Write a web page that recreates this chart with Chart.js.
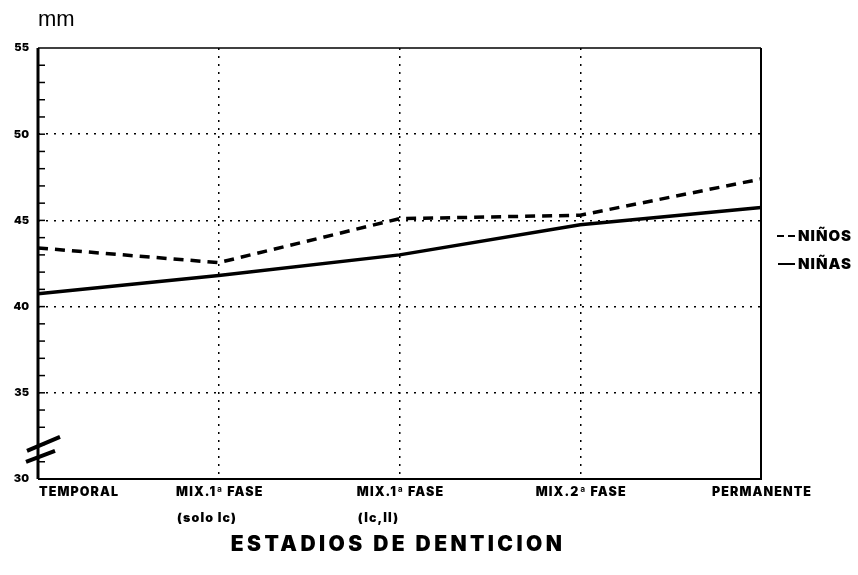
<!DOCTYPE html>
<html>
<head>
<meta charset="utf-8">
<script src="https://cdn.jsdelivr.net/npm/chart.js@4"></script>
<style>
  html, body { margin: 0; padding: 0; background: #fff; }
  #wrap { width: 858px; height: 575px; position: relative; }
</style>
</head>
<body>
<div id="wrap"><canvas id="chart"></canvas></div>
<script>
// =========================
// DATA
// =========================

const categories = [
    ['TEMPORAL'],
    ['MIX.1ª FASE', '(solo Ic)'],
    ['MIX.1ª FASE', '(Ic,II)'],
    ['MIX.2ª FASE'],
    ['PERMANENTE']
];

const ninos = [43.4, 42.55, 45.1, 45.3, 47.4];
const ninas = [40.75, 41.8, 43.0, 44.75, 45.75];

const yMin = 30;
const yMax = 55;
const yMajor = 5;

const seriesNames = ['NIÑOS', 'NIÑAS'];

const heavyFont = 'Inter, "DejaVu Sans", sans-serif';

// =========================
// DECORATION PLUGIN
// =========================

const decorations = {
    id: 'decorations',

    afterDatasetsDraw(chart) {
        const ctx = chart.ctx;
        const area = chart.chartArea;
        const xs = chart.scales.x;
        const ys = chart.scales.y;

        ctx.save();
        ctx.strokeStyle = '#000';
        ctx.lineCap = 'butt';

        // frame
        ctx.lineWidth = 1.5;
        ctx.beginPath();
        ctx.moveTo(area.left, area.top);
        ctx.lineTo(area.right, area.top);
        ctx.stroke();

        ctx.lineWidth = 2;
        ctx.beginPath();
        ctx.moveTo(area.right, area.top);
        ctx.lineTo(area.right, area.bottom);
        ctx.lineTo(area.left, area.bottom);
        ctx.stroke();

        ctx.lineWidth = 3;
        ctx.beginPath();
        ctx.moveTo(area.left, area.top);
        ctx.lineTo(area.left, area.bottom);
        ctx.stroke();

        // minor ticks pointing inside
        ctx.lineWidth = 1.5;
        for (let v = yMin + 1; v < yMax; v++) {
            const y = ys.getPixelForValue(v);
            ctx.beginPath();
            ctx.moveTo(area.left, y);
            ctx.lineTo(area.left + 7, y);
            ctx.stroke();
        }

        // axis break
        ctx.lineWidth = 4;
        ctx.beginPath();
        ctx.moveTo(area.left - 11, ys.getPixelForValue(31.63));
        ctx.lineTo(area.left + 22, ys.getPixelForValue(32.44));
        ctx.moveTo(area.left - 12, ys.getPixelForValue(30.99));
        ctx.lineTo(area.left + 17, ys.getPixelForValue(31.63));
        ctx.stroke();

        // category labels
        ctx.fillStyle = '#000';
        ctx.textBaseline = 'middle';
        ctx.font = '900 12.5px ' + heavyFont;
        ctx.letterSpacing = '1.1px';
        categories.forEach((lines, i) => {
            const x = xs.getPixelForValue(i);
            const w = ctx.measureText(lines[0]).width;
            let left = x - w / 2 + 1;
            if (i === 0) left = x + 1;
            ctx.textAlign = 'left';
            ctx.fillText(lines[0], left, area.bottom + 13);
            if (lines[1]) {
                ctx.fillText(lines[1], left + 1, area.bottom + 39);
            }
        });

        // axis titles
        ctx.letterSpacing = '0px';
        ctx.font = '22px "Liberation Sans", Arial, sans-serif';
        ctx.textAlign = 'left';
        ctx.fillText('mm', area.left, 20);

        ctx.font = '900 21px ' + heavyFont;
        ctx.letterSpacing = '3.4px';
        ctx.textAlign = 'center';
        ctx.fillText('ESTADIOS DE DENTICION', 398, area.bottom + 66);

        // legend
        ctx.font = '900 15px ' + heavyFont;
        ctx.letterSpacing = '1px';
        ctx.textAlign = 'left';
        const lx = area.right + 16;
        const ly = [236, 264];

        ctx.lineWidth = 2;
        ctx.setLineDash([7, 4]);
        ctx.beginPath();
        ctx.moveTo(lx, ly[0]);
        ctx.lineTo(lx + 20, ly[0]);
        ctx.stroke();
        ctx.setLineDash([]);
        ctx.beginPath();
        ctx.moveTo(lx + 1, ly[1]);
        ctx.lineTo(lx + 18, ly[1]);
        ctx.stroke();

        ctx.fillText(seriesNames[0], lx + 21, ly[0]);
        ctx.fillText(seriesNames[1], lx + 21, ly[1]);

        ctx.restore();
    }
};

// =========================
// CHART
// =========================

const ctx = document.getElementById('chart');

new Chart(ctx, {

    type: 'line',

    data: {
        labels: categories.map(c => c.join(' ')),
        datasets: [
            {
                label: seriesNames[0],
                data: ninos,
                borderColor: '#000',
                borderWidth: 3.5,
                borderDash: [10, 7],
                pointRadius: 0,
                tension: 0,
                fill: false
            },
            {
                label: seriesNames[1],
                data: ninas,
                borderColor: '#000',
                borderWidth: 3.5,
                pointRadius: 0,
                tension: 0,
                fill: false
            }
        ]
    },

    options: {
        responsive: true,
        maintainAspectRatio: false,
        animation: false,
        layout: {
            padding: { top: 48, right: 97, left: 0, bottom: 0 }
        },
        plugins: {
            legend: { display: false },
            tooltip: { enabled: false }
        },
        scales: {
            x: {
                offset: false,
                ticks: { display: false },
                grid: {
                    drawTicks: false,
                    lineWidth: 1.5,
                    color: c => (c.index === 0 || c.index === categories.length - 1) ? 'rgba(0,0,0,0)' : '#000'
                },
                border: { display: false, dash: [2, 6] },
                afterFit: scale => { scale.height = 96; }
            },
            y: {
                min: yMin,
                max: yMax,
                ticks: {
                    stepSize: 1,
                    autoSkip: false,
                    padding: 9,
                    color: '#000',
                    font: { family: heavyFont, size: 11, weight: 900 },
                    callback: v => (v % yMajor === 0 ? v : '')
                },
                grid: {
                    drawTicks: false,
                    lineWidth: 1.5,
                    color: c => {
                        const v = c.tick.value;
                        if (v % yMajor !== 0 || v === yMin || v === yMax) return 'rgba(0,0,0,0)';
                        return '#000';
                    }
                },
                border: { display: false, dash: [2, 6] },
                afterFit: scale => { scale.width = 38; }
            }
        }
    },

    plugins: [decorations]

});
</script>
</body>
</html>
